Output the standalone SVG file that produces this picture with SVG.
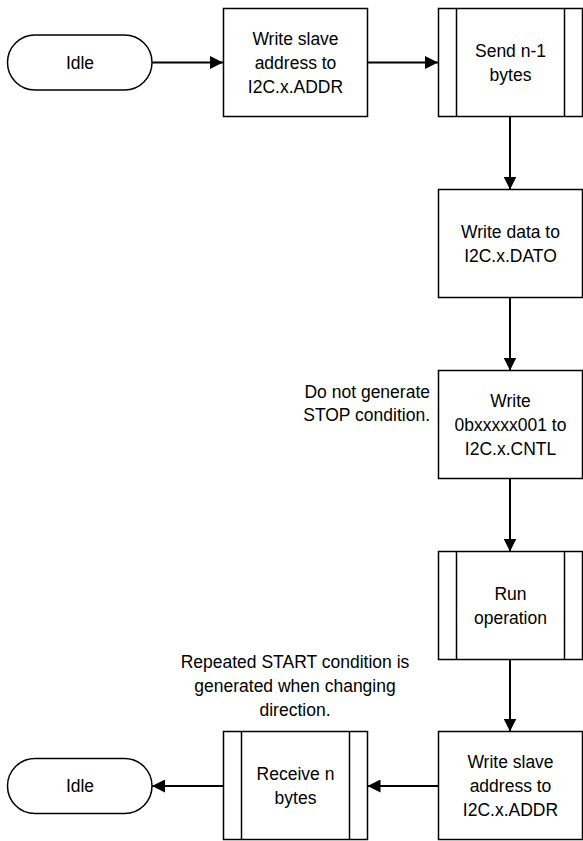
<svg xmlns="http://www.w3.org/2000/svg" width="583" height="841" viewBox="0 0 583 841">
<style>
.box{fill:#ffffff;stroke:#000000;stroke-width:1.5}
.inner{fill:none;stroke:#000000;stroke-width:1.5}
.conn{fill:none;stroke:#000000;stroke-width:2}
text{font-family:"Liberation Sans",Arial,sans-serif;font-size:17.5px;fill:#000000;text-anchor:middle}
.note{text-anchor:middle}
.noteR{text-anchor:end}
</style>
<defs>
<marker id="arr" markerUnits="userSpaceOnUse" markerWidth="13" markerHeight="13" refX="13" refY="6.5" orient="auto">
<path d="M0,0 L13,6.5 L0,13 Z" fill="#000000"/>
</marker>
</defs>
<g id="connectors">
<line class="conn" x1="152" y1="62.5" x2="223" y2="62.5" marker-end="url(#arr)"/>
<line class="conn" x1="367.5" y1="62.5" x2="438" y2="62.5" marker-end="url(#arr)"/>
<line class="conn" x1="510" y1="116.5" x2="510" y2="189.5" marker-end="url(#arr)"/>
<line class="conn" x1="510" y1="297.5" x2="510" y2="370.5" marker-end="url(#arr)"/>
<line class="conn" x1="510" y1="478.5" x2="510" y2="551.5" marker-end="url(#arr)"/>
<line class="conn" x1="510" y1="659.5" x2="510" y2="731.5" marker-end="url(#arr)"/>
<line class="conn" x1="438.5" y1="786" x2="367.5" y2="786" marker-end="url(#arr)"/>
<line class="conn" x1="223.5" y1="786" x2="152" y2="786" marker-end="url(#arr)"/>
</g>
<g id="idle1">
<rect class="box" x="7.5" y="35" width="144.5" height="55" rx="27.5" ry="27.5"/>
<text x="80" y="68.5">Idle</text>
</g>
<g id="writeAddr1">
<rect class="box" x="223.5" y="8.5" width="144" height="108"/>
<text x="295.5" y="44.5">Write slave</text>
<text x="295.5" y="68.5">address to</text>
<text x="295.5" y="92.5">I2C.x.ADDR</text>
</g>
<g id="sendBytes">
<rect class="box" x="438.5" y="8.5" width="144" height="108"/>
<line class="inner" x1="456.5" y1="8.5" x2="456.5" y2="116.5"/>
<line class="inner" x1="564.5" y1="8.5" x2="564.5" y2="116.5"/>
<text x="510.5" y="56.5">Send n-1</text>
<text x="510.5" y="80.5">bytes</text>
</g>
<g id="writeData">
<rect class="box" x="438.5" y="189.5" width="144" height="108"/>
<text x="510.5" y="238">Write data to</text>
<text x="510.5" y="262">I2C.x.DATO</text>
</g>
<g id="writeCntl">
<rect class="box" x="438.5" y="370.5" width="144" height="108"/>
<text x="510.5" y="406.5">Write</text>
<text x="510.5" y="430.5">0bxxxxx001 to</text>
<text x="510.5" y="454.5">I2C.x.CNTL</text>
</g>
<g id="noteStop">
<text class="noteR" x="430" y="398">Do not generate</text>
<text class="noteR" x="430" y="421">STOP condition.</text>
</g>
<g id="runOp">
<rect class="box" x="438.5" y="551.5" width="144" height="108"/>
<line class="inner" x1="456.5" y1="551.5" x2="456.5" y2="659.5"/>
<line class="inner" x1="564.5" y1="551.5" x2="564.5" y2="659.5"/>
<text x="510.5" y="599.5">Run</text>
<text x="510.5" y="623.5">operation</text>
</g>
<g id="noteStart">
<text class="note" x="295" y="668">Repeated START condition is</text>
<text class="note" x="295" y="692">generated when changing</text>
<text class="note" x="295" y="716">direction.</text>
</g>
<g id="writeAddr2">
<rect class="box" x="438.5" y="731.5" width="144" height="108"/>
<text x="510.5" y="767.5">Write slave</text>
<text x="510.5" y="791.5">address to</text>
<text x="510.5" y="815.5">I2C.x.ADDR</text>
</g>
<g id="receiveBytes">
<rect class="box" x="223.5" y="731.5" width="144" height="108"/>
<line class="inner" x1="241.5" y1="731.5" x2="241.5" y2="839.5"/>
<line class="inner" x1="349.5" y1="731.5" x2="349.5" y2="839.5"/>
<text x="295.5" y="779.5">Receive n</text>
<text x="295.5" y="803.5">bytes</text>
</g>
<g id="idle2">
<rect class="box" x="7.5" y="758.5" width="144.5" height="55" rx="27.5" ry="27.5"/>
<text x="80" y="792">Idle</text>
</g>
</svg>
